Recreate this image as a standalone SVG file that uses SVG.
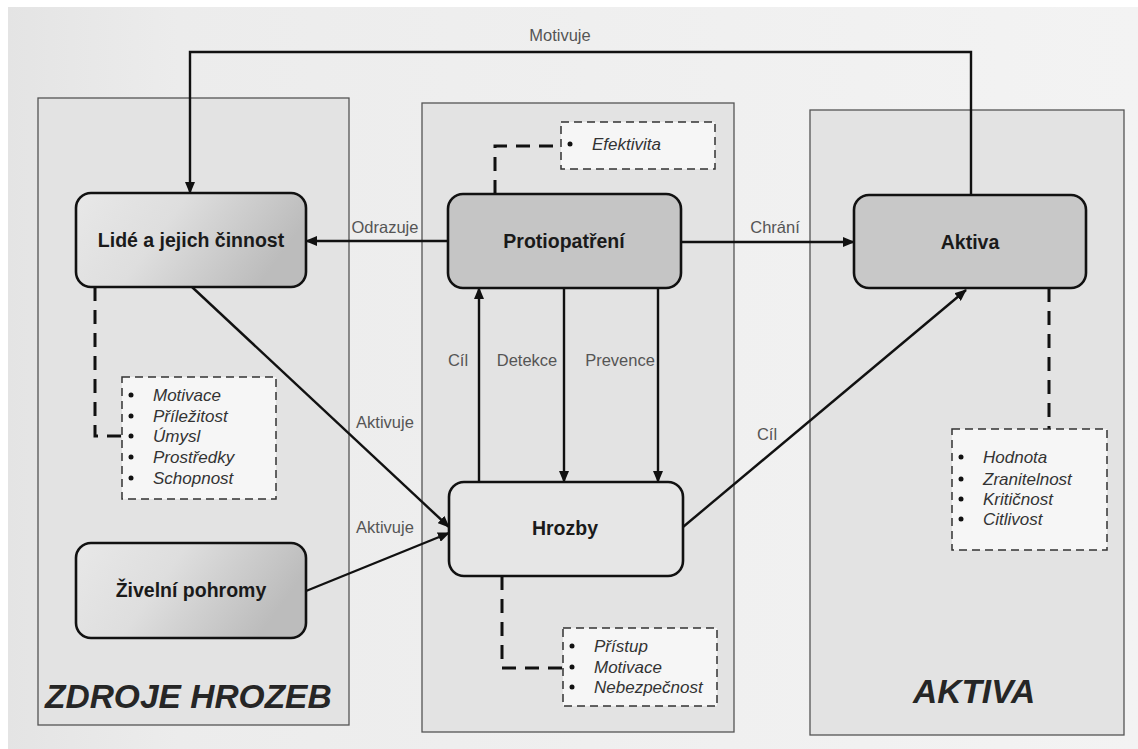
<svg xmlns="http://www.w3.org/2000/svg" width="1138" height="749" viewBox="0 0 1138 749">
  <defs>
    <linearGradient id="bg" x1="0" y1="0" x2="1" y2="0">
      <stop offset="0" stop-color="#e4e4e4"/>
      <stop offset="0.15" stop-color="#ececec"/>
      <stop offset="1" stop-color="#f3f3f3"/>
    </linearGradient>
    <linearGradient id="srcGrad" x1="0" y1="0" x2="1" y2="0.3">
      <stop offset="0" stop-color="#e8e8e8"/>
      <stop offset="0.45" stop-color="#dedede"/>
      <stop offset="1" stop-color="#bcbcbc"/>
    </linearGradient>
    <marker id="arr" viewBox="0 0 12 10" refX="11" refY="5" markerWidth="12" markerHeight="10" markerUnits="userSpaceOnUse" orient="auto">
      <path d="M0,0 L12,5 L0,10 Z" fill="#111"/>
    </marker>
  </defs>
  <style>
    .panel { fill: #e3e3e3; stroke: #555; stroke-width: 1.3; }
    .box { stroke: #111; stroke-width: 2.6; }
    .title { font-family: "Liberation Sans", Arial, sans-serif; font-weight: bold; font-size: 19.5px; fill: #1a1a1a; text-anchor: middle; dominant-baseline: central; }
    .lbl { font-family: "Liberation Sans", Arial, sans-serif; font-size: 16.5px; fill: #555; text-anchor: middle; dominant-baseline: central; }
    .conn { stroke: #111; stroke-width: 2.4; fill: none; }
    .dconn { stroke: #111; stroke-width: 3; fill: none; stroke-dasharray: 14 9; }
    .list { fill: #f6f6f6; stroke: #333; stroke-width: 1.5; stroke-dasharray: 8 5; }
    .item { font-family: "Liberation Sans", Arial, sans-serif; font-style: italic; font-size: 17px; fill: #333; dominant-baseline: central; }
    .dot { fill: #111; }
    .big { font-family: "Liberation Sans", Arial, sans-serif; font-style: italic; font-weight: bold; font-size: 33.5px; fill: #262626; }
  </style>

  <rect x="0" y="0" width="1138" height="749" fill="#ffffff"/>
  <rect x="8" y="7" width="1130" height="742" fill="url(#bg)"/>

  <!-- panels -->
  <g id="panel-zdroje">
    <rect class="panel" x="38" y="98" width="311" height="627"/>
    <text class="big" x="45" y="708">ZDROJE HROZEB</text>
  </g>
  <g id="panel-stred">
    <rect class="panel" x="422" y="103" width="312" height="629"/>
  </g>
  <g id="panel-aktiva">
    <rect class="panel" x="810" y="110" width="314" height="625"/>
    <text class="big" x="913" y="703" fill="#333">AKTIVA</text>
  </g>

  <!-- connectors -->
  <g id="connectors">
    <path class="conn" d="M971,195 V52 H190 V193" marker-end="url(#arr)"/>
    <path class="conn" d="M448,241 H306" marker-end="url(#arr)"/>
    <path class="conn" d="M681,242 H854" marker-end="url(#arr)"/>
    <path class="conn" d="M479,482 V288" marker-end="url(#arr)"/>
    <path class="conn" d="M564,288 V482" marker-end="url(#arr)"/>
    <path class="conn" d="M658,288 V482" marker-end="url(#arr)"/>
    <path class="conn" d="M192,287 L449,527" marker-end="url(#arr)"/>
    <path class="conn" d="M306,591 L449,533" marker-end="url(#arr)"/>
    <path class="conn" d="M683,527 L966,290" marker-end="url(#arr)"/>
    <path class="dconn" d="M95,287 V436 H122"/>
    <path class="dconn" d="M495,194 V146 H561"/>
    <path class="dconn" d="M502,576 V668 H563"/>
    <path class="dconn" d="M1049,288 V429"/>
    <text class="lbl" x="560" y="35">Motivuje</text>
    <text class="lbl" x="385" y="227">Odrazuje</text>
    <text class="lbl" x="775" y="227">Chrání</text>
    <text class="lbl" x="458" y="360">Cíl</text>
    <text class="lbl" x="527" y="360">Detekce</text>
    <text class="lbl" x="620" y="360">Prevence</text>
    <text class="lbl" x="385" y="422">Aktivuje</text>
    <text class="lbl" x="385" y="527">Aktivuje</text>
    <text class="lbl" x="767" y="434">Cíl</text>
  </g>

  <!-- nodes -->
  <g id="lide">
    <rect class="box" x="76" y="193" width="230" height="94" rx="15" fill="url(#srcGrad)"/>
    <text class="title" x="191" y="240">Lidé a jejich činnost</text>
  </g>
  <g id="zivelni">
    <rect class="box" x="76" y="543" width="230" height="95" rx="15" fill="url(#srcGrad)"/>
    <text class="title" x="191" y="590">Živelní pohromy</text>
  </g>
  <g id="protiopatreni">
    <rect class="box" x="448" y="194" width="233" height="94" rx="15" fill="#c5c5c5"/>
    <text class="title" x="564" y="241">Protiopatření</text>
  </g>
  <g id="hrozby">
    <rect class="box" x="449" y="482" width="234" height="94" rx="15" fill="#e6e6e6"/>
    <text class="title" x="565" y="528">Hrozby</text>
  </g>
  <g id="aktiva">
    <rect class="box" x="854" y="195" width="232" height="93" rx="15" fill="#c8c8c8"/>
    <text class="title" x="970" y="242">Aktiva</text>
  </g>

  <!-- attribute lists -->
  <g id="list-lide">
    <rect class="list" x="122" y="377" width="154" height="122"/>
    <circle class="dot" cx="131" cy="395" r="2.5"/>
    <circle class="dot" cx="131" cy="416" r="2.5"/>
    <circle class="dot" cx="131" cy="436" r="2.5"/>
    <circle class="dot" cx="131" cy="457" r="2.5"/>
    <circle class="dot" cx="131" cy="478" r="2.5"/>
    <text class="item" x="153" y="395">Motivace</text>
    <text class="item" x="153" y="416">Příležitost</text>
    <text class="item" x="153" y="436">Úmysl</text>
    <text class="item" x="153" y="457">Prostředky</text>
    <text class="item" x="153" y="478">Schopnost</text>
  </g>
  <g id="list-protiopatreni">
    <rect class="list" x="561" y="122" width="154" height="47"/>
    <circle class="dot" cx="570" cy="144" r="2.5"/>
    <text class="item" x="592" y="144">Efektivita</text>
  </g>
  <g id="list-hrozby">
    <rect class="list" x="563" y="628" width="154" height="78"/>
    <circle class="dot" cx="572" cy="646" r="2.5"/>
    <circle class="dot" cx="572" cy="667" r="2.5"/>
    <circle class="dot" cx="572" cy="687" r="2.5"/>
    <text class="item" x="594" y="646">Přístup</text>
    <text class="item" x="594" y="667">Motivace</text>
    <text class="item" x="594" y="687">Nebezpečnost</text>
  </g>
  <g id="list-aktiva">
    <rect class="list" x="952" y="429" width="155" height="121"/>
    <circle class="dot" cx="961" cy="457" r="2.5"/>
    <circle class="dot" cx="961" cy="479" r="2.5"/>
    <circle class="dot" cx="961" cy="499" r="2.5"/>
    <circle class="dot" cx="961" cy="519" r="2.5"/>
    <text class="item" x="983" y="457">Hodnota</text>
    <text class="item" x="983" y="479">Zranitelnost</text>
    <text class="item" x="983" y="499">Kritičnost</text>
    <text class="item" x="983" y="519">Citlivost</text>
  </g>
</svg>
